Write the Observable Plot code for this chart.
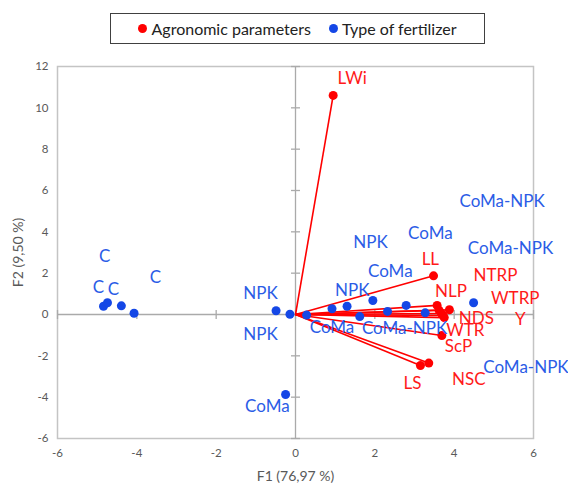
<!DOCTYPE html>
<html>
<head>
<meta charset="utf-8">
<script src="https://cdn.jsdelivr.net/npm/d3@7"></script>
<script src="https://cdn.jsdelivr.net/npm/@observablehq/plot@0.6"></script>
<style>
  html, body { margin: 0; padding: 0; background: #fff; }
  body { width: 568px; height: 485px; overflow: hidden; font-family: Lato, "Open Sans", sans-serif; }
  #legend { height: 50px; position: relative; }
  #legend .box { position: absolute; left: 110px; top: 13px; width: 375px; height: 31px; border: 1px solid #404040; box-sizing: border-box; display: flex; align-items: center; justify-content: center; gap: 18px; font-size: 16px; color: #222; }
  #legend .item { display: flex; align-items: center; gap: 4px; }
  #legend .sw { width: 9px; height: 9px; border-radius: 50%; display: inline-block; }
</style>
</head>
<body>
<div id="legend"></div>
<div id="chart"></div>
<script>
// Agronomic parameters (variables): F1, F2 coordinates
const agroNames = ["LWi", "LL", "NLP", "NTRP", "WTRP", "NDS", "Y", "WTR", "ScP", "LS", "NSC"];
const agroF1 = [0.95, 3.48, 3.57, 3.88, 3.62, 3.68, 3.72, 3.75, 3.69, 3.15, 3.36];
const agroF2 = [10.6, 1.87, 0.44, 0.23, 0.20, 0.05, -0.05, -0.15, -1.02, -2.47, -2.35];
// label anchor positions (data units) for agronomic parameters
const agroLabelF1 = [1.43, 3.40, 3.92, 5.04, 5.54, 4.56, 5.67, 4.28, 4.11, 2.95, 4.37];
const agroLabelF2 = [11.4, 2.66, 1.13, 1.89, 0.76, -0.21, -0.24, -0.77, -1.55, -3.35, -3.14];

// Type of fertilizer (observations): F1, F2 coordinates
const fertNames = ["C", "C", "C", "C", "NPK", "NPK", "CoMa", "CoMa", "CoMa", "NPK", "NPK", "CoMa", "CoMa-NPK", "CoMa-NPK", "CoMa-NPK", "CoMa-NPK"];
const fertF1 = [-4.84, -4.74, -4.39, -4.07, -0.49, -0.14, -0.25, 0.28, 0.92, 1.30, 1.95, 1.62, 2.32, 2.79, 3.27, 4.49];
const fertF2 = [0.40, 0.57, 0.42, 0.06, 0.18, 0.01, -3.87, -0.03, 0.28, 0.40, 0.68, -0.10, 0.15, 0.44, 0.08, 0.57];
// label anchor positions (data units) for fertilizer labels
const fertLabelF1 = [-4.81, -4.97, -4.59, -3.53, -0.88, -0.88, -0.71, 0.92, 2.39, 1.43, 1.89, 3.40, 2.75, 5.21, 5.42, 5.81];
const fertLabelF2 = [2.80, 1.32, 1.22, 1.77, 1.00, -0.97, -4.43, -0.61, 2.09, 1.16, 3.50, 3.90, -0.69, 5.48, 3.18, -2.55];

const xTicks = [-6, -4, -2, 0, 2, 4, 6];
const yTicks = [-6, -4, -2, 0, 2, 4, 6, 8, 10, 12];

const RED = "#ff0000", BLUE = "#1447e6", BLUE_TXT = "#2b5ce6", RED_TXT = "#ff1a1a";

const agro = agroNames.map((n, i) => ({name: n, x: agroF1[i], y: agroF2[i], lx: agroLabelF1[i], ly: agroLabelF2[i]}));
const fert = fertNames.map((n, i) => ({name: n, x: fertF1[i], y: fertF2[i], lx: fertLabelF1[i], ly: fertLabelF2[i]}));

// legend
document.getElementById("legend").innerHTML =
  `<div class="box"><span class="item"><span class="sw" style="background:${RED}"></span>Agronomic parameters</span>` +
  `<span class="item"><span class="sw" style="background:${BLUE}"></span>Type of fertilizer</span></div>`;

const hLine = {draw(ctx, size) { const r = Math.sqrt(size / Math.PI); ctx.moveTo(-r, 0); ctx.lineTo(r, 0); }};
const vLine = {draw(ctx, size) { const r = Math.sqrt(size / Math.PI); ctx.moveTo(0, -r); ctx.lineTo(0, r); }};

const chart = Plot.plot({
  width: 568,
  height: 435,
  marginLeft: 57,
  marginRight: 35,
  marginTop: 16,
  marginBottom: 47,
  style: {fontFamily: "Lato, 'Open Sans', sans-serif", background: "#fff", overflow: "visible"},
  x: {domain: [-6, 6], ticks: xTicks, tickSize: 0, tickPadding: 10, label: "F1 (76,97 %)", labelAnchor: "center", labelOffset: 42, labelArrow: "none", tickFormat: d => String(d)},
  y: {domain: [-6, 12], ticks: yTicks, tickSize: 0, tickPadding: 9, label: "F2 (9,50 %)", labelAnchor: "center", labelOffset: 44, labelArrow: "none", tickFormat: d => String(d)},
  marks: [
    Plot.frame({stroke: "#c4c4c4", strokeWidth: 1.5}),
    Plot.ruleX([0], {stroke: "#aaaaaa", strokeWidth: 1.3}),
    Plot.ruleY([0], {stroke: "#aaaaaa", strokeWidth: 1.3}),
    Plot.dot(yTicks, {x: 0, y: d => d, symbol: hLine, r: 4.5, stroke: "#aaaaaa", strokeWidth: 1.3}),
    Plot.dot(xTicks, {x: d => d, y: 0, symbol: vLine, r: 4.5, stroke: "#aaaaaa", strokeWidth: 1.3}),
    Plot.link(agro, {x1: 0, y1: 0, x2: "x", y2: "y", stroke: RED, strokeWidth: 1.6}),
    Plot.dot(fert, {x: "x", y: "y", r: 4.5, fill: BLUE}),
    Plot.dot(agro, {x: "x", y: "y", r: 4.5, fill: RED}),
    Plot.text(fert, {x: "lx", y: "ly", text: "name", fill: BLUE_TXT, fontSize: 17}),
    Plot.text(agro, {x: "lx", y: "ly", text: "name", fill: RED_TXT, fontSize: 17})
  ]
});
document.getElementById("chart").appendChild(chart);
d3.select(chart).selectAll("[aria-label='x-axis tick label'] text, [aria-label='y-axis tick label'] text").attr("fill", "#595959").style("font-size", "11.5px");
d3.select(chart).selectAll("[aria-label='x-axis label'] text, [aria-label='y-axis label'] text")
  .attr("fill", "#595959").style("font-size", "14px")
  .each(function() { this.textContent = this.textContent.replace(/\s*[→↑←↓]\s*/g, ""); });
</script>
</body>
</html>
